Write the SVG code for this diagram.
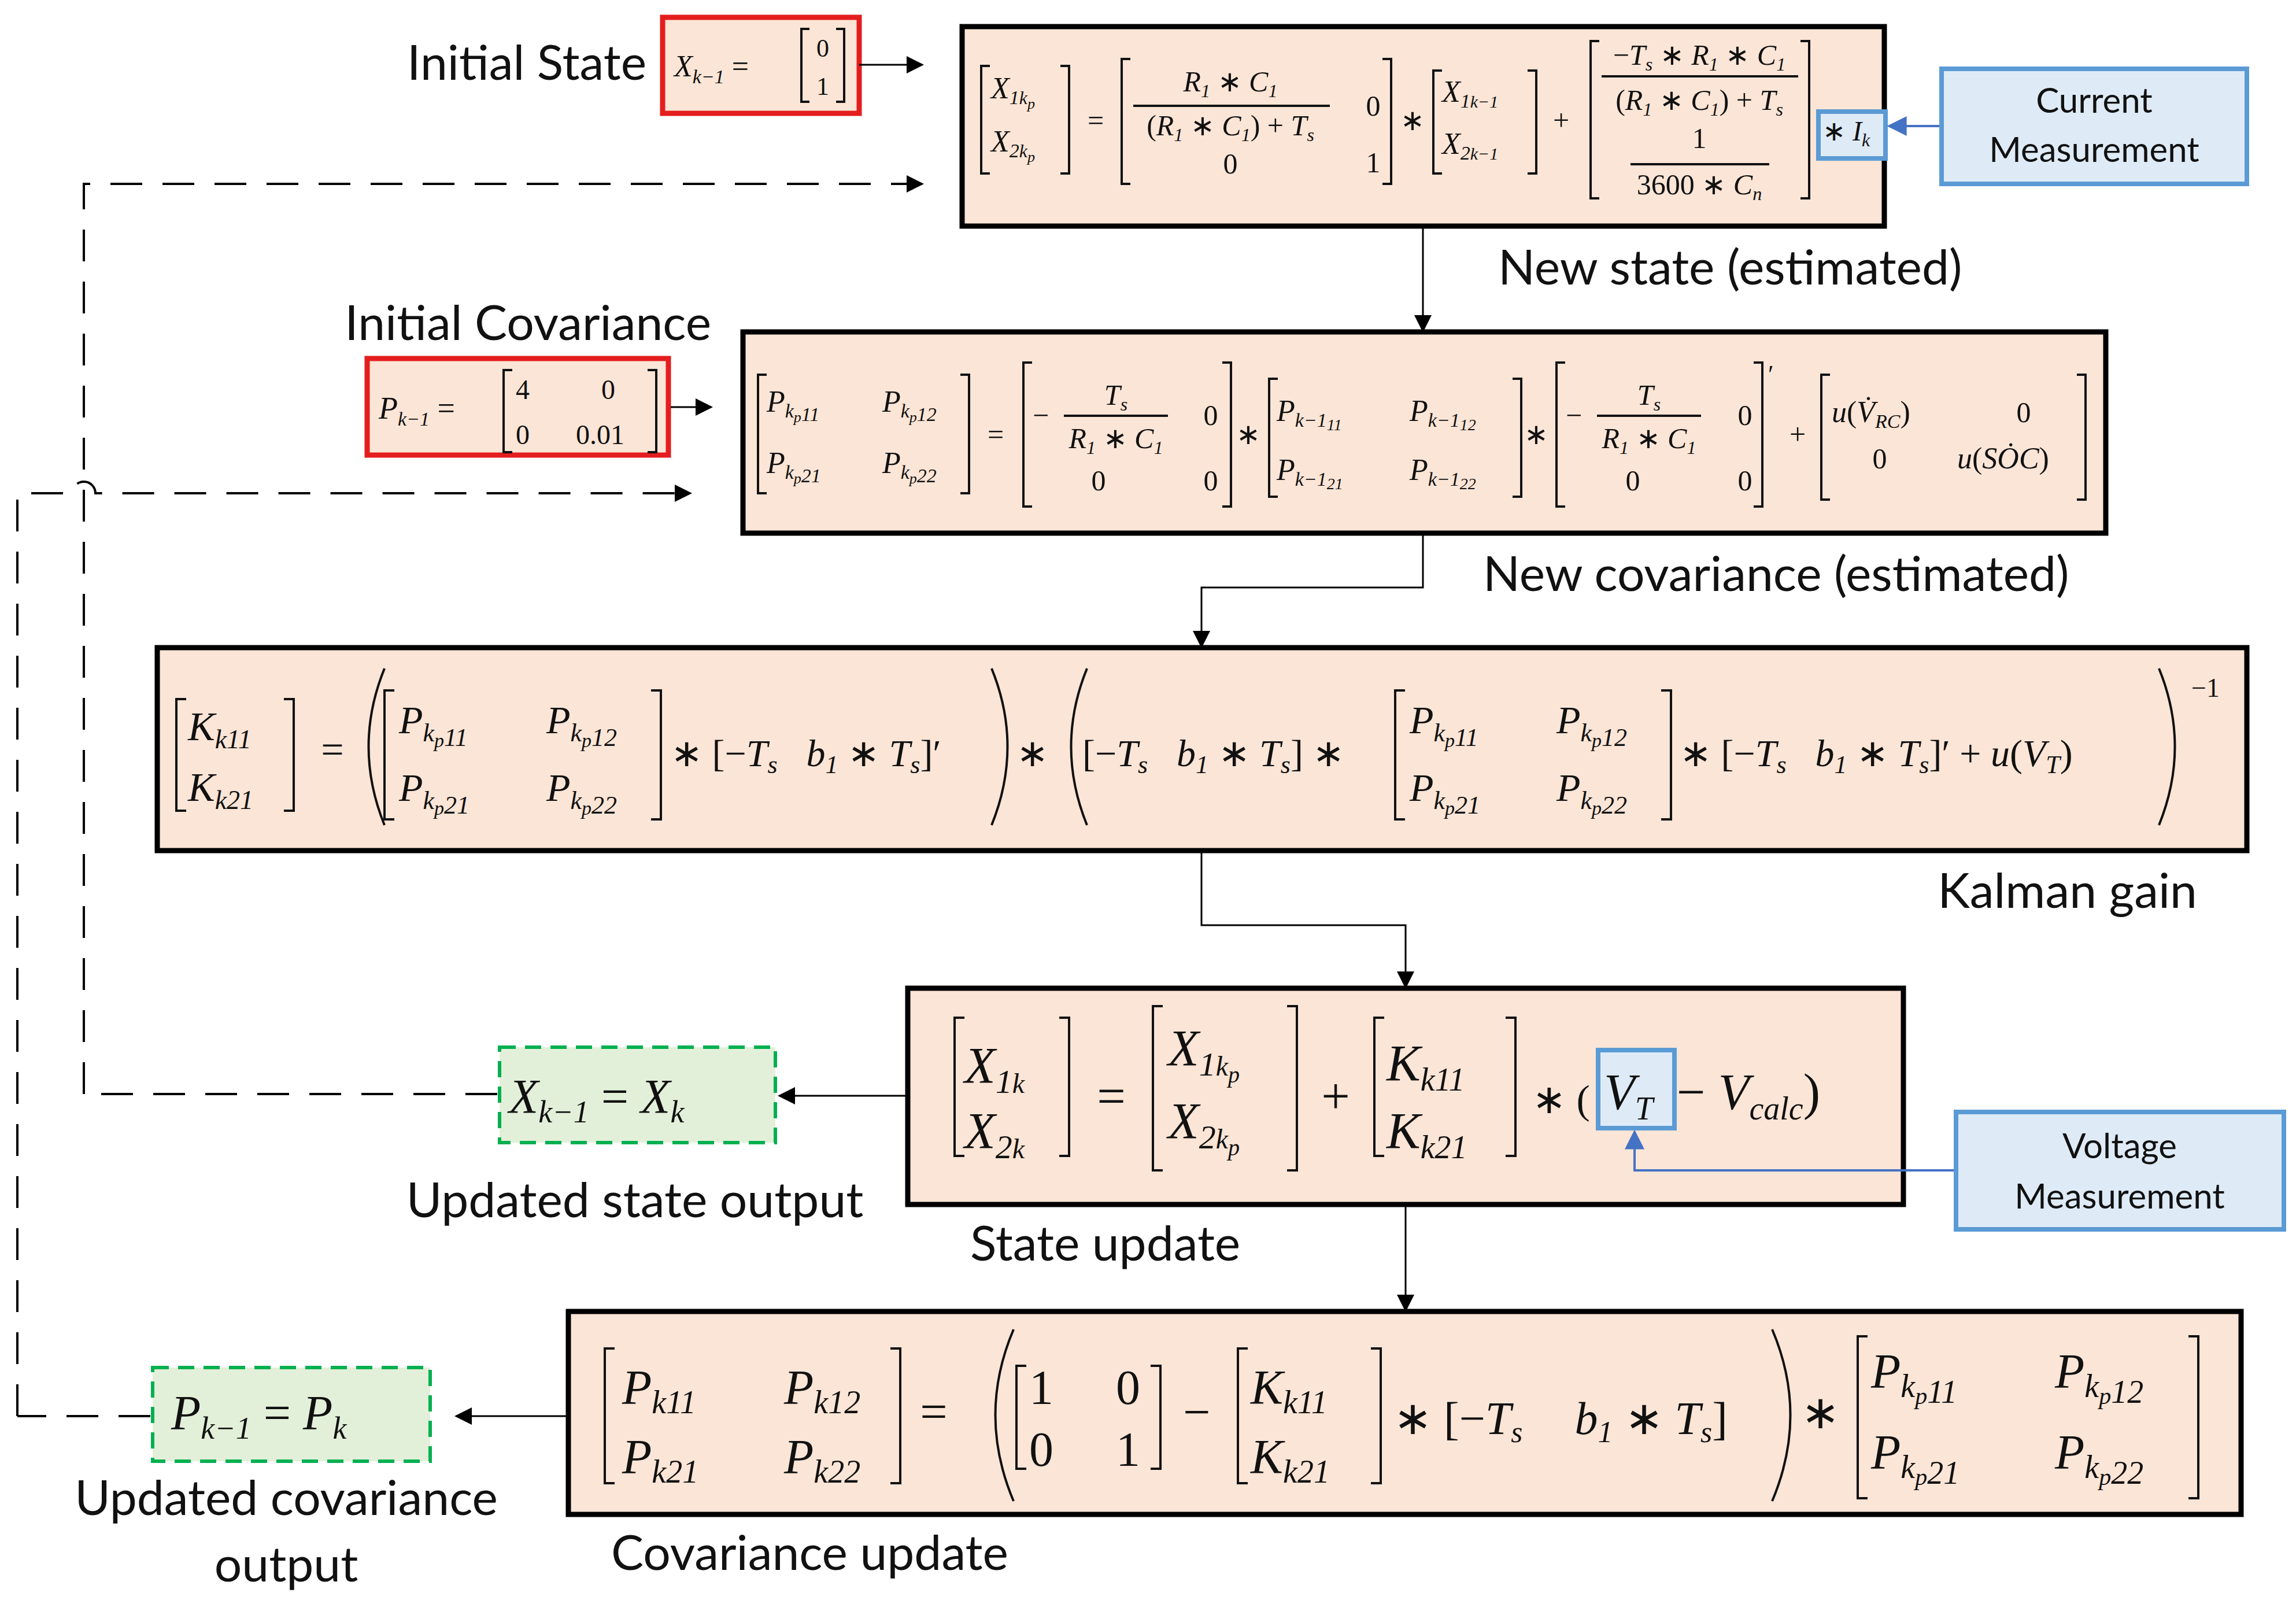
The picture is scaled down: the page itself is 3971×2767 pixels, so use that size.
<svg xmlns="http://www.w3.org/2000/svg" width="3971" height="2767" viewBox="0 0 3971 2767" xml:space="preserve">
<defs>
<marker id="ah" viewBox="0 0 10 10" refX="9" refY="5" markerWidth="30" markerHeight="30" markerUnits="userSpaceOnUse" orient="auto"><path d="M0,0 L10,5 L0,10 z" fill="#000"/></marker>
<marker id="ab" viewBox="0 0 10 10" refX="9" refY="5" markerWidth="34" markerHeight="34" markerUnits="userSpaceOnUse" orient="auto"><path d="M0,0 L10,5 L0,10 z" fill="#4472C4"/></marker>
</defs>
<style>
.box{fill:#FBE5D6;stroke:#000;stroke-width:9}
.red{fill:#FBE5D6;stroke:#E41E1E;stroke-width:9}
.blue{fill:#DEEBF7;stroke:#5B9BD5;stroke-width:8}
.green{fill:#E2F0D9;stroke:#00B050;stroke-width:6;stroke-dasharray:28 16}
.lbl{font-family:Lato,"Liberation Sans",sans-serif;font-size:84px;fill:#111}
.bl{font-family:Lato,"Liberation Sans",sans-serif;font-size:60px;fill:#111;text-anchor:middle}
.m{font-family:"Liberation Serif",serif;font-style:italic;fill:#111}
.u{font-style:normal}
.br{fill:none;stroke:#111;stroke-width:4}
.con{fill:none;stroke:#000;stroke-width:3}
.dash{fill:none;stroke:#000;stroke-width:4;stroke-dasharray:55 35}
.mid{text-anchor:middle}
</style>
<g id="labels">
<text class="lbl" x="1118" y="138" text-anchor="end">Initial State</text>
<text class="lbl" x="2591" y="492">New state (estimated)</text>
<text class="lbl" x="1230" y="588" text-anchor="end">Initial Covariance</text>
<text class="lbl" x="2565" y="1022">New covariance (estimated)</text>
<text class="lbl" x="3800" y="1570" text-anchor="end">Kalman gain</text>
<text class="lbl" x="1098" y="2105" text-anchor="middle">Updated state output</text>
<text class="lbl" x="1678" y="2180">State update</text>
<text class="lbl" x="495" y="2620" text-anchor="middle">Updated covariance</text>
<text class="lbl" x="495" y="2735" text-anchor="middle">output</text>
<text class="lbl" x="1057" y="2715">Covariance update</text>
</g>
<g id="initial-state">
<rect class="red" x="1146" y="30" width="340" height="166"/>
<text class="m" font-size="52" x="1166" y="132">X<tspan font-size="34" dy="12">k−1</tspan><tspan class="u" dy="-12"> = </tspan></text>
<path class="br" d="M1400,50 H1386 V176 H1400 M1446,50 H1460 V176 H1446"/>
<text class="m u mid" font-size="44" x="1423" y="98">0</text>
<text class="m u mid" font-size="44" x="1423" y="164">1</text>
</g>
<g id="current-measurement">
<rect class="blue" x="3358" y="119" width="528" height="199"/>
<text class="bl" x="3622" y="195">Current</text>
<text class="bl" x="3622" y="280">Measurement</text>
</g>
<g id="new-state">
<rect class="box" x="1664" y="46" width="1595" height="345"/>
<path class="br" d="M1712,114 H1697 V300 H1712 M1834,114 H1849 V300 H1834"/>
<text class="m" font-size="52" x="1714" y="170">X<tspan font-size="34" dy="10">1</tspan><tspan font-size="32">k</tspan><tspan font-size="26" dy="8">p</tspan></text>
<text class="m" font-size="52" x="1714" y="262">X<tspan font-size="34" dy="10">2</tspan><tspan font-size="32">k</tspan><tspan font-size="26" dy="8">p</tspan></text>
<text class="m u mid" font-size="50" x="1895" y="225">=</text>
<path class="br" d="M1955,102 H1940 V318 H1955 M2391,102 H2406 V318 H2391"/>
<text class="m mid" font-size="50" x="2128" y="158">R<tspan font-size="32" dy="10">1</tspan><tspan class="u" dy="-10"> ∗ </tspan>C<tspan font-size="32" dy="10">1</tspan></text>
<path class="br" d="M1960,183 H2300" stroke-width="3"/>
<text class="m mid" font-size="50" x="2128" y="234"><tspan class="u">(</tspan>R<tspan font-size="32" dy="10">1</tspan><tspan class="u" dy="-10"> ∗ </tspan>C<tspan font-size="32" dy="10">1</tspan><tspan class="u" dy="-10">) + </tspan>T<tspan font-size="32" dy="10">s</tspan></text>
<text class="m u mid" font-size="50" x="2128" y="300">0</text>
<text class="m u mid" font-size="50" x="2375" y="200">0</text>
<text class="m u mid" font-size="50" x="2375" y="298">1</text>
<text class="m u mid" font-size="50" x="2443" y="225">∗</text>
<path class="br" d="M2494,122 H2479 V300 H2494 M2642,122 H2657 V300 H2642"/>
<text class="m" font-size="52" x="2494" y="176">X<tspan font-size="34" dy="10">1</tspan><tspan font-size="30">k−1</tspan></text>
<text class="m" font-size="52" x="2494" y="266">X<tspan font-size="34" dy="10">2</tspan><tspan font-size="30">k−1</tspan></text>
<text class="m u mid" font-size="50" x="2700" y="225">+</text>
<path class="br" d="M2766,71 H2751 V343 H2766 M3114,71 H3129 V343 H3114"/>
<text class="m mid" font-size="50" x="2939" y="112"><tspan class="u">−</tspan>T<tspan font-size="32" dy="10">s</tspan><tspan class="u" dy="-10"> ∗ </tspan>R<tspan font-size="32" dy="10">1</tspan><tspan class="u" dy="-10"> ∗ </tspan>C<tspan font-size="32" dy="10">1</tspan></text>
<path class="br" d="M2770,132 H3110" stroke-width="3"/>
<text class="m mid" font-size="50" x="2939" y="190"><tspan class="u">(</tspan>R<tspan font-size="32" dy="10">1</tspan><tspan class="u" dy="-10"> ∗ </tspan>C<tspan font-size="32" dy="10">1</tspan><tspan class="u" dy="-10">) + </tspan>T<tspan font-size="32" dy="10">s</tspan></text>
<text class="m u mid" font-size="50" x="2939" y="256">1</text>
<path class="br" d="M2820,284 H3060" stroke-width="3"/>
<text class="m mid" font-size="50" x="2939" y="336"><tspan class="u">3600 ∗ </tspan>C<tspan font-size="32" dy="10">n</tspan></text>
<rect class="blue" x="3145" y="193" width="116" height="81" stroke-width="7"/>
<text class="m" font-size="48" x="3152" y="243"><tspan class="u">∗ </tspan>I<tspan font-size="32" dy="10">k</tspan></text>
</g>
<g id="initial-covariance">
<rect class="red" x="635" y="620" width="521" height="167"/>
<text class="m" font-size="54" x="655" y="724">P<tspan font-size="34" dy="12">k−1</tspan><tspan class="u" dy="-12"> = </tspan></text>
<path class="br" d="M886,640 H871 V782 H886 M1120,640 H1135 V782 H1120"/>
<text class="m u" font-size="48" x="892" y="690">4</text>
<text class="m u" font-size="48" x="1040" y="690">0</text>
<text class="m u" font-size="48" x="892" y="768">0</text>
<text class="m u" font-size="48" x="996" y="768">0.01</text>
</g>
<g id="new-covariance">
<rect class="box" x="1285" y="574" width="2357" height="348"/>
<path class="br" d="M1326,648 H1311 V853 H1326 M1661,648 H1676 V853 H1661"/>
<text class="m" font-size="52" x="1326" y="712">P<tspan font-size="34" dy="10">k</tspan><tspan font-size="26" dy="8">p</tspan><tspan font-size="34" dy="-2">11</tspan></text>
<text class="m" font-size="52" x="1526" y="712">P<tspan font-size="34" dy="10">k</tspan><tspan font-size="26" dy="8">p</tspan><tspan font-size="34" dy="-2">12</tspan></text>
<text class="m" font-size="52" x="1326" y="818">P<tspan font-size="34" dy="10">k</tspan><tspan font-size="26" dy="8">p</tspan><tspan font-size="34" dy="-2">21</tspan></text>
<text class="m" font-size="52" x="1526" y="818">P<tspan font-size="34" dy="10">k</tspan><tspan font-size="26" dy="8">p</tspan><tspan font-size="34" dy="-2">22</tspan></text>
<text class="m u mid" font-size="50" x="1722" y="768">=</text>
<path class="br" d="M1785,627 H1770 V876 H1785 M2114,627 H2129 V876 H2114"/>
<text class="m u" font-size="50" x="1786" y="735">−</text>
<text class="m mid" font-size="50" x="1930" y="700">T<tspan font-size="32" dy="10">s</tspan></text>
<path class="br" d="M1840,719 H2020" stroke-width="3"/>
<text class="m mid" font-size="50" x="1930" y="775">R<tspan font-size="32" dy="10">1</tspan><tspan class="u" dy="-10"> ∗ </tspan>C<tspan font-size="32" dy="10">1</tspan></text>
<text class="m u mid" font-size="50" x="1900" y="848">0</text>
<text class="m u mid" font-size="50" x="2094" y="735">0</text>
<text class="m u mid" font-size="50" x="2094" y="848">0</text>
<text class="m u mid" font-size="50" x="2159" y="768">∗</text>
<path class="br" d="M2210,655 H2195 V859 H2210 M2616,655 H2631 V859 H2616"/>
<text class="m" font-size="52" x="2208" y="728">P<tspan font-size="34" dy="10">k−1</tspan><tspan font-size="28" dy="6">11</tspan></text>
<text class="m" font-size="52" x="2438" y="728">P<tspan font-size="34" dy="10">k−1</tspan><tspan font-size="28" dy="6">12</tspan></text>
<text class="m" font-size="52" x="2208" y="830">P<tspan font-size="34" dy="10">k−1</tspan><tspan font-size="28" dy="6">21</tspan></text>
<text class="m" font-size="52" x="2438" y="830">P<tspan font-size="34" dy="10">k−1</tspan><tspan font-size="28" dy="6">22</tspan></text>
<text class="m u mid" font-size="50" x="2657" y="768">∗</text>
<path class="br" d="M2707,627 H2692 V876 H2707 M3033,627 H3048 V876 H3033"/>
<text class="m u" font-size="44" x="3058" y="662">′</text>
<text class="m u" font-size="50" x="2708" y="735">−</text>
<text class="m mid" font-size="50" x="2852" y="700">T<tspan font-size="32" dy="10">s</tspan></text>
<path class="br" d="M2762,719 H2942" stroke-width="3"/>
<text class="m mid" font-size="50" x="2852" y="775">R<tspan font-size="32" dy="10">1</tspan><tspan class="u" dy="-10"> ∗ </tspan>C<tspan font-size="32" dy="10">1</tspan></text>
<text class="m u mid" font-size="50" x="2824" y="848">0</text>
<text class="m u mid" font-size="50" x="3018" y="735">0</text>
<text class="m u mid" font-size="50" x="3018" y="848">0</text>
<text class="m u mid" font-size="50" x="3109" y="768">+</text>
<path class="br" d="M3165,648 H3150 V864 H3165 M3592,648 H3607 V864 H3592"/>
<text class="m" font-size="52" x="3168" y="730">u<tspan class="u">(</tspan>V̇<tspan font-size="34" dy="10">RC</tspan><tspan class="u" dy="-10">)</tspan></text>
<text class="m u mid" font-size="50" x="3500" y="730">0</text>
<text class="m u mid" font-size="50" x="3251" y="810">0</text>
<text class="m" font-size="52" x="3385" y="810">u<tspan class="u">(</tspan>SȮC<tspan class="u">)</tspan></text>
</g>
<g id="kalman-gain">
<rect class="box" x="272" y="1120" width="3614" height="351"/>
<path class="br" d="M322,1209 H305 V1402 H322 M491,1209 H508 V1402 H491"/>
<text class="m" font-size="70" x="325" y="1280">K<tspan font-size="46" dy="14">k11</tspan></text>
<text class="m" font-size="70" x="325" y="1385">K<tspan font-size="46" dy="14">k21</tspan></text>
<text class="m u mid" font-size="70" x="575" y="1320">=</text>
<path class="br" d="M665,1156 Q610,1291 665,1427"/>
<path class="br" d="M682,1194 H665 V1417 H682 M1126,1194 H1143 V1417 H1126"/>
<text class="m" font-size="68" x="690" y="1268">P<tspan font-size="44" dy="14">k</tspan><tspan font-size="34" dy="10">p</tspan><tspan font-size="44" dy="-2">11</tspan></text>
<text class="m" font-size="68" x="945" y="1268">P<tspan font-size="44" dy="14">k</tspan><tspan font-size="34" dy="10">p</tspan><tspan font-size="44" dy="-2">12</tspan></text>
<text class="m" font-size="68" x="690" y="1385">P<tspan font-size="44" dy="14">k</tspan><tspan font-size="34" dy="10">p</tspan><tspan font-size="44" dy="-2">21</tspan></text>
<text class="m" font-size="68" x="945" y="1385">P<tspan font-size="44" dy="14">k</tspan><tspan font-size="34" dy="10">p</tspan><tspan font-size="44" dy="-2">22</tspan></text>
<text class="m" font-size="66" x="1160" y="1325"><tspan class="u">∗ [−</tspan>T<tspan font-size="44" dy="12">s</tspan><tspan dy="-12" dx="50">b</tspan><tspan font-size="44" dy="12">1</tspan><tspan class="u" dy="-12"> ∗ </tspan>T<tspan font-size="44" dy="12">s</tspan><tspan class="u" dy="-12">]′</tspan></text>
<path class="br" d="M1715,1156 Q1770,1291 1715,1427"/>
<text class="m u mid" font-size="66" x="1785" y="1325">∗</text>
<path class="br" d="M1880,1156 Q1825,1291 1880,1427"/>
<text class="m" font-size="66" x="1872" y="1325"><tspan class="u">[−</tspan>T<tspan font-size="44" dy="12">s</tspan><tspan dy="-12" dx="50">b</tspan><tspan font-size="44" dy="12">1</tspan><tspan class="u" dy="-12"> ∗ </tspan>T<tspan font-size="44" dy="12">s</tspan><tspan class="u" dy="-12">] ∗</tspan></text>
<path class="br" d="M2430,1194 H2413 V1417 H2430 M2873,1194 H2890 V1417 H2873"/>
<text class="m" font-size="68" x="2438" y="1268">P<tspan font-size="44" dy="14">k</tspan><tspan font-size="34" dy="10">p</tspan><tspan font-size="44" dy="-2">11</tspan></text>
<text class="m" font-size="68" x="2692" y="1268">P<tspan font-size="44" dy="14">k</tspan><tspan font-size="34" dy="10">p</tspan><tspan font-size="44" dy="-2">12</tspan></text>
<text class="m" font-size="68" x="2438" y="1385">P<tspan font-size="44" dy="14">k</tspan><tspan font-size="34" dy="10">p</tspan><tspan font-size="44" dy="-2">21</tspan></text>
<text class="m" font-size="68" x="2692" y="1385">P<tspan font-size="44" dy="14">k</tspan><tspan font-size="34" dy="10">p</tspan><tspan font-size="44" dy="-2">22</tspan></text>
<text class="m" font-size="66" x="2905" y="1325"><tspan class="u">∗ [−</tspan>T<tspan font-size="44" dy="12">s</tspan><tspan dy="-12" dx="50">b</tspan><tspan font-size="44" dy="12">1</tspan><tspan class="u" dy="-12"> ∗ </tspan>T<tspan font-size="44" dy="12">s</tspan><tspan class="u" dy="-12">]′ + </tspan>u<tspan class="u">(</tspan>V<tspan font-size="44" dy="12">T</tspan><tspan class="u" dy="-12">)</tspan></text>
<path class="br" d="M3734,1156 Q3789,1291 3734,1427"/>
<text class="m u" font-size="46" x="3790" y="1205">−1</text>
</g>
<g id="state-update">
<rect class="box" x="1570" y="1709" width="1722" height="374"/>
<path class="br" d="M1668,1760 H1651 V1999 H1668 M1832,1760 H1849 V1999 H1832"/>
<text class="m" font-size="88" x="1668" y="1872">X<tspan font-size="58" dy="18">1</tspan><tspan font-size="48">k</tspan></text>
<text class="m" font-size="88" x="1668" y="1985">X<tspan font-size="58" dy="18">2</tspan><tspan font-size="48">k</tspan></text>
<text class="m u mid" font-size="88" x="1922" y="1925">=</text>
<path class="br" d="M2011,1740 H1994 V2024 H2011 M2226,1740 H2243 V2024 H2226"/>
<text class="m" font-size="88" x="2020" y="1842">X<tspan font-size="58" dy="18">1</tspan><tspan font-size="48">k</tspan><tspan font-size="40" dy="12">p</tspan></text>
<text class="m" font-size="88" x="2020" y="1968">X<tspan font-size="58" dy="18">2</tspan><tspan font-size="48">k</tspan><tspan font-size="40" dy="12">p</tspan></text>
<text class="m u mid" font-size="88" x="2310" y="1925">+</text>
<path class="br" d="M2394,1760 H2377 V1999 H2394 M2604,1760 H2621 V1999 H2604"/>
<text class="m" font-size="88" x="2398" y="1868">K<tspan font-size="56" dy="18">k11</tspan></text>
<text class="m" font-size="88" x="2398" y="1985">K<tspan font-size="56" dy="18">k21</tspan></text>
<text class="m u" font-size="70" x="2650" y="1925">∗ (</text>
<rect class="blue" x="2764" y="1816" width="132" height="135" stroke-width="7"/>
<text class="m" font-size="88" x="2774" y="1918">V<tspan font-size="56" dy="18">T</tspan></text>
<text class="m" font-size="88" x="2900" y="1918"><tspan class="u">− </tspan>V<tspan font-size="56" dy="18">calc</tspan><tspan class="u" dy="-18">)</tspan></text>
</g>
<g id="voltage-measurement">
<rect class="blue" x="3383" y="1923" width="567" height="203"/>
<text class="bl" x="3666" y="2003">Voltage</text>
<text class="bl" x="3666" y="2090">Measurement</text>
</g>
<g id="updated-state">
<rect class="green" x="864" y="1811" width="477" height="165"/>
<text class="m" font-size="84" x="880" y="1925">X<tspan font-size="54" dy="16">k−1</tspan><tspan class="u" dy="-16"> = </tspan>X<tspan font-size="54" dy="16">k</tspan></text>
</g>
<g id="covariance-update">
<rect class="box" x="983" y="2268" width="2893" height="351"/>
<path class="br" d="M1063,2332 H1046 V2565 H1063 M1540,2332 H1557 V2565 H1540"/>
<text class="m" font-size="84" x="1076" y="2428">P<tspan font-size="56" dy="16">k11</tspan></text>
<text class="m" font-size="84" x="1356" y="2428">P<tspan font-size="56" dy="16">k12</tspan></text>
<text class="m" font-size="84" x="1076" y="2548">P<tspan font-size="56" dy="16">k21</tspan></text>
<text class="m" font-size="84" x="1356" y="2548">P<tspan font-size="56" dy="16">k22</tspan></text>
<text class="m u mid" font-size="84" x="1615" y="2470">=</text>
<path class="br" d="M1753,2299 Q1690,2447 1753,2596"/>
<path class="br" d="M1775,2362 H1758 V2540 H1775 M1990,2362 H2007 V2540 H1990"/>
<text class="m u" font-size="84" x="1780" y="2428">1</text>
<text class="m u" font-size="84" x="1930" y="2428">0</text>
<text class="m u" font-size="84" x="1780" y="2535">0</text>
<text class="m u" font-size="84" x="1930" y="2535">1</text>
<text class="m u mid" font-size="84" x="2070" y="2470">−</text>
<path class="br" d="M2158,2332 H2141 V2565 H2158 M2371,2332 H2388 V2565 H2371"/>
<text class="m" font-size="84" x="2163" y="2428">K<tspan font-size="56" dy="16">k11</tspan></text>
<text class="m" font-size="84" x="2163" y="2548">K<tspan font-size="56" dy="16">k21</tspan></text>
<text class="m" font-size="80" x="2410" y="2480"><tspan class="u">∗ [−</tspan>T<tspan font-size="52" dy="14">s</tspan><tspan dy="-14" dx="90">b</tspan><tspan font-size="52" dy="14">1</tspan><tspan class="u" dy="-14"> ∗ </tspan>T<tspan font-size="52" dy="14">s</tspan><tspan class="u" dy="-14">]</tspan></text>
<path class="br" d="M3065,2299 Q3128,2447 3065,2596"/>
<text class="m u mid" font-size="80" x="3148" y="2470">∗</text>
<path class="br" d="M3230,2311 H3213 V2591 H3230 M3785,2311 H3802 V2591 H3785"/>
<text class="m" font-size="84" x="3236" y="2400">P<tspan font-size="56" dy="16">k</tspan><tspan font-size="42" dy="12">p</tspan><tspan font-size="56" dy="-2">11</tspan></text>
<text class="m" font-size="84" x="3554" y="2400">P<tspan font-size="56" dy="16">k</tspan><tspan font-size="42" dy="12">p</tspan><tspan font-size="56" dy="-2">12</tspan></text>
<text class="m" font-size="84" x="3236" y="2540">P<tspan font-size="56" dy="16">k</tspan><tspan font-size="42" dy="12">p</tspan><tspan font-size="56" dy="-2">21</tspan></text>
<text class="m" font-size="84" x="3554" y="2540">P<tspan font-size="56" dy="16">k</tspan><tspan font-size="42" dy="12">p</tspan><tspan font-size="56" dy="-2">22</tspan></text>
</g>
<g id="updated-covariance">
<rect class="green" x="264" y="2365" width="480" height="162"/>
<text class="m" font-size="84" x="296" y="2472">P<tspan font-size="54" dy="16">k−1</tspan><tspan class="u" dy="-16"> = </tspan>P<tspan font-size="54" dy="16">k</tspan></text>
</g>
<g id="connectors">
<path class="con" d="M1486,112 H1595" marker-end="url(#ah)" stroke-width="6"/>
<path class="dash" d="M145,1892 V318 H1595" marker-end="url(#ah)"/>
<path class="con" d="M2461,395 V572" marker-end="url(#ah)"/>
<path class="con" d="M1160,704 H1230" marker-end="url(#ah)" stroke-width="6"/>
<path class="dash" d="M30,2449 V853 H125 A20,20 0 0 1 165,853 H1194" marker-end="url(#ah)"/>
<path class="con" d="M2461,926 V1016 H2078 V1118" marker-end="url(#ah)"/>
<path class="con" d="M2078,1475 V1600 H2431 V1707" marker-end="url(#ah)"/>
<path class="con" d="M1566,1895 H1348" marker-end="url(#ah)" stroke-width="5"/>
<path class="dash" d="M860,1892 H145"/>
<path class="con" d="M2431,2087 V2266" marker-end="url(#ah)"/>
<path class="con" d="M979,2449 H789" marker-end="url(#ah)" stroke-width="5"/>
<path class="dash" d="M260,2449 H30"/>
<path d="M3354,218 H3267" fill="none" stroke="#4472C4" stroke-width="4" marker-end="url(#ab)"/>
<path d="M3379,2024 H2827 V1957" fill="none" stroke="#4472C4" stroke-width="4" marker-end="url(#ab)"/>
</g>
</svg>
